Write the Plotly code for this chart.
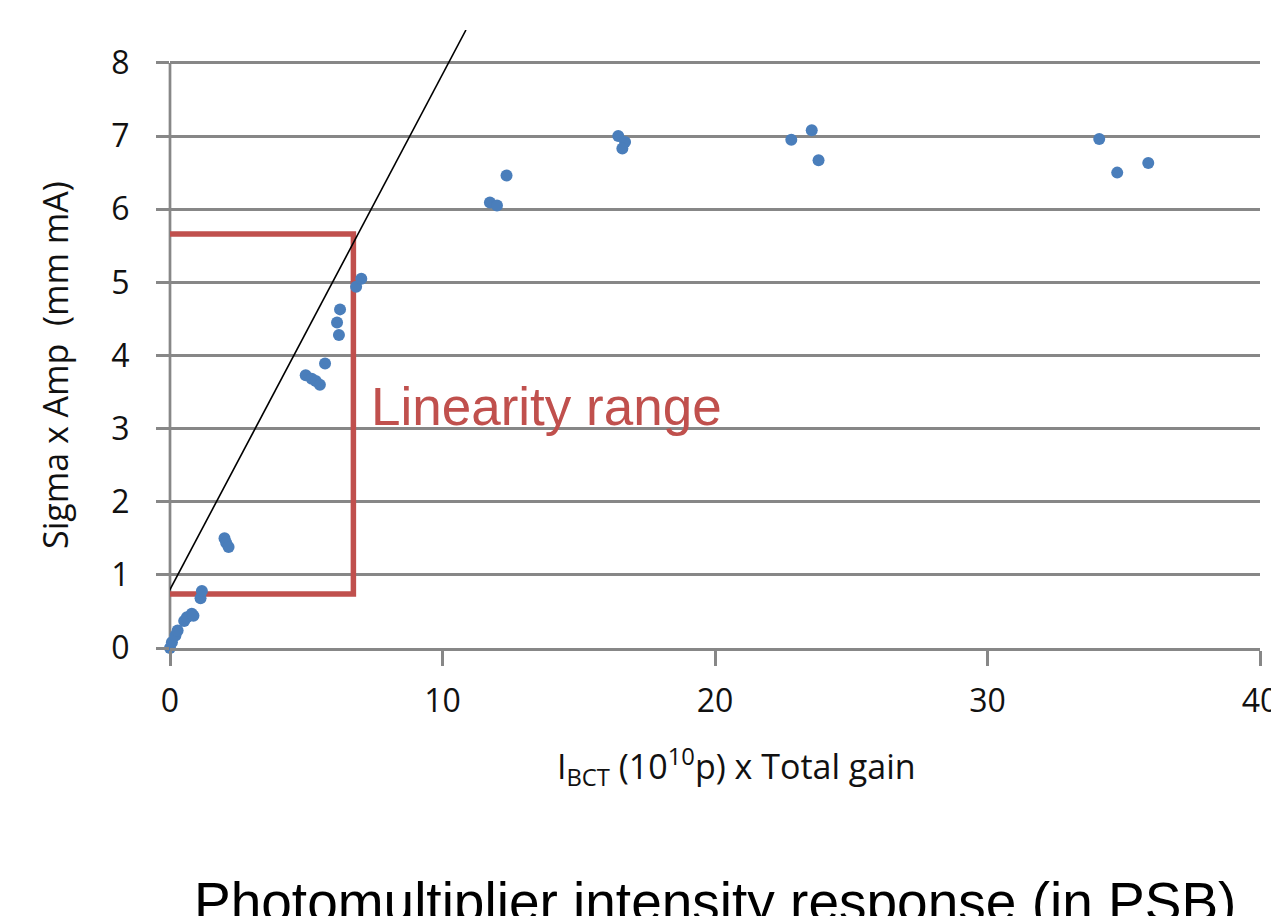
import plotly.graph_objects as go

# Data points
x_vals = [0.0, 0.07, 0.2, 0.28, 0.52, 0.62, 0.8, 0.86, 1.12, 1.17,
          2.0, 2.06, 2.15, 4.98, 5.2, 5.35, 5.5, 5.69, 6.13, 6.2, 6.24,
          6.83, 7.02, 11.74, 12.0, 12.35, 16.45, 16.7, 16.6, 22.8, 23.55,
          23.8, 34.1, 34.76, 35.9]
y_vals = [0.0, 0.08, 0.17, 0.24, 0.37, 0.42, 0.47, 0.44, 0.68, 0.78,
          1.5, 1.44, 1.38, 3.73, 3.68, 3.65, 3.6, 3.89, 4.45, 4.28, 4.63,
          4.94, 5.05, 6.09, 6.05, 6.46, 7.0, 6.92, 6.83, 6.95, 7.08,
          6.67, 6.96, 6.5, 6.63]

# Linear guide line
trend_x = [-0.07, 10.86]
trend_y = [0.75, 8.45]

# Linearity range box
box_x = [-0.22, 6.73]
box_y = [0.74, 5.66]

x_ticks = [0, 10, 20, 30, 40]
y_ticks = [0, 1, 2, 3, 4, 5, 6, 7, 8]

X_RANGE = [0, 40]
Y_RANGE = [0, 8.45]

GRID = "#878787"
BLUE = "#4A7EBB"
RED = "#C0504D"
TICKFONT = dict(family="Open Sans", size=32, color="#111111")

PW, PH = 1090, 618  # plot area size in px

fig = go.Figure()

fig.add_trace(go.Scatter(
    x=trend_x, y=trend_y, mode="lines",
    line=dict(color="black", width=1.6), showlegend=False, hoverinfo="skip"))

fig.add_trace(go.Scatter(
    x=x_vals, y=y_vals, mode="markers",
    marker=dict(color=BLUE, size=12, line=dict(width=0)),
    cliponaxis=False, showlegend=False))

# Linearity box
fig.add_shape(type="rect", xref="x", yref="y",
              x0=box_x[0], x1=box_x[1], y0=box_y[0], y1=box_y[1],
              line=dict(color=RED, width=5.5), layer="between")

# Vertical y axis line (only up to top tick)
fig.add_shape(type="line", xref="paper", yref="y",
              x0=0, x1=0, y0=y_ticks[0], y1=y_ticks[-1],
              line=dict(color=GRID, width=2.7), layer="between")

fig.add_annotation(x=7.32, y=3.3, xref="x", yref="y",
                   text="Linearity range", showarrow=False,
                   xanchor="left", yanchor="middle",
                   font=dict(family="Liberation Sans", size=53, color=RED))

fig.add_annotation(x=(737 - 170) / PW, y=-(766 - 648) / PH,
                   xref="paper", yref="paper",
                   text="I<sub>BCT</sub> (10<sup>10</sup>p) x Total gain",
                   showarrow=False, xanchor="center", yanchor="middle",
                   font=dict(family="Open Sans", size=34, color="#111111"))

fig.add_annotation(x=-(170 - 55) / PW, y=(648 - 365) / PH,
                   xref="paper", yref="paper",
                   text="Sigma x Amp  (mm mA)", textangle=-90,
                   showarrow=False, xanchor="center", yanchor="middle",
                   font=dict(family="Open Sans", size=34, color="#111111"))

fig.add_annotation(x=(192 - 170) / PW, y=-(869 - 648) / PH,
                   xref="paper", yref="paper",
                   text="Photomultiplier intensity response (in PSB)",
                   showarrow=False, xanchor="left", yanchor="top",
                   font=dict(family="Liberation Sans", size=55, color="black"))

fig.update_xaxes(range=X_RANGE, tickvals=x_ticks, showgrid=False, zeroline=False,
                 showline=True, linecolor=GRID, linewidth=2.7,
                 ticks="outside", ticklen=15, tickwidth=2.7, tickcolor=GRID,
                 tickfont=TICKFONT, ticklabelstandoff=8, automargin=False)
fig.update_yaxes(range=Y_RANGE, tickvals=y_ticks, showgrid=True, gridcolor=GRID,
                 gridwidth=2.7, zeroline=False, showline=False,
                 ticks="outside", ticklen=13, tickwidth=2.7, tickcolor=GRID,
                 tickfont=TICKFONT, ticklabelstandoff=20, automargin=False)

fig.update_layout(width=1279, height=916,
                  margin=dict(l=162, r=1279 - 162 - PW, t=22, b=916 - 22 - PH),
                  plot_bgcolor="white", paper_bgcolor="white")

fig.write_html("out.html")
